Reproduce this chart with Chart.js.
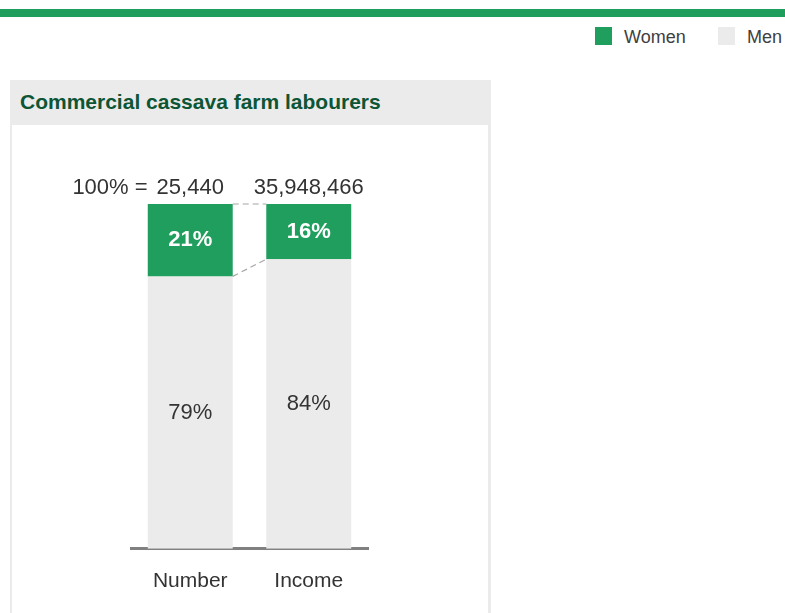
<!DOCTYPE html>
<html>
<head>
<meta charset="utf-8">
<script src="https://cdn.jsdelivr.net/npm/chart.js@4"></script>
<style>
    body { margin: 0; width: 785px; height: 613px; overflow: hidden; background: #fff; font-family: "Liberation Sans", Arial, sans-serif; position: relative; }
    #topBar { position: absolute; left: 0; top: 9px; width: 785px; height: 8px; background: #1f9e5e; }
    #legend { position: absolute; top: 27px; left: 595px; height: 20px; font-size: 18px; color: #404040; }
    .legItem { position: absolute; top: 0; white-space: nowrap; }
    .legItem span.box { position: absolute; left: 0; top: 0; width: 17px; height: 18px; }
    .legItem span.txt { position: absolute; top: 0; line-height: 20px; }
    #panel { position: absolute; left: 10px; top: 80px; width: 481px; height: 540px; background: #ebebeb; }
    #panelTitle { position: absolute; left: 10px; top: 10px; font-size: 21px; font-weight: bold; color: #0d5535; }
    #inner { position: absolute; left: 2px; top: 45px; width: 476px; height: 500px; background: #fff; }
    #chartBox { position: absolute; left: 12px; top: 127px; }
</style>
</head>
<body>
<div id="topBar"></div>
<div id="legend"></div>
<div id="panel">
    <div id="panelTitle">Commercial cassava farm labourers</div>
    <div id="inner"></div>
</div>
<div id="chartBox"><canvas id="shareChart" width="476" height="487"></canvas></div>
<script>
    const categories = ["Number", "Income"];
    const totals = ["25,440", "35,948,466"];
    const womenShare = [21, 16];
    const menShare = [79, 84];
    const seriesNames = ["Women", "Men"];
    const seriesColors = ["#1f9e5e", "#ebebeb"];

    // Legend outside the panel
    const legend = document.getElementById("legend");
    const legendX = [0, 123];
    seriesNames.forEach(function (name, i) {
        const item = document.createElement("div");
        item.className = "legItem";
        item.style.left = legendX[i] + "px";
        item.innerHTML = '<span class="box" style="background:' + seriesColors[i] + '"></span><span class="txt" style="left:29px">' + name + '</span>';
        legend.appendChild(item);
    });

    const fontFamily = '"Liberation Sans", Arial, sans-serif';

    // labels, totals and dashed connectors
    const annotations = {
        id: "annotations",
        afterDatasetsDraw(chart) {
            const ctx = chart.ctx;
            const men = chart.getDatasetMeta(0).data;
            const women = chart.getDatasetMeta(1).data;
            ctx.save();
            ctx.textAlign = "center";
            ctx.textBaseline = "middle";

            women.forEach(function (bar, i) {
                ctx.font = "bold 22px " + fontFamily;
                ctx.fillStyle = "#ffffff";
                ctx.fillText(womenShare[i] + "%", bar.x, (bar.y + bar.base) / 2);
            });
            men.forEach(function (bar, i) {
                ctx.font = "22px " + fontFamily;
                ctx.fillStyle = "#333333";
                ctx.fillText(menShare[i] + "%", bar.x, (bar.y + bar.base) / 2);
            });

            // totals above bars
            const top = chart.chartArea.top;
            ctx.font = "22px " + fontFamily;
            ctx.fillStyle = "#333333";
            totals.forEach(function (t, i) {
                ctx.textAlign = "center";
                ctx.fillText(t, women[i].x, top - 16);
            });
            ctx.textAlign = "right";
            const firstW = ctx.measureText(totals[0]).width;
            ctx.fillText("100% =", women[0].x - firstW / 2 - 9, top - 16);

            // dashed connectors
            ctx.strokeStyle = "#a6a6a6";
            ctx.lineWidth = 1.2;
            ctx.setLineDash([6, 4]);
            const a = women[0], b = women[1];
            ctx.beginPath();
            ctx.moveTo(a.x + a.width / 2, a.y);
            ctx.lineTo(b.x - b.width / 2, b.y);
            ctx.moveTo(a.x + a.width / 2, a.base);
            ctx.lineTo(b.x - b.width / 2, b.base);
            ctx.stroke();
            ctx.restore();
        }
    };

    const ctx = document.getElementById("shareChart").getContext("2d");
    const shareChart = new Chart(ctx, {
        type: "bar",
        data: {
            labels: categories,
            datasets: [{
                label: seriesNames[1],
                data: menShare,
                backgroundColor: seriesColors[1],
                barPercentage: 0.717,
                categoryPercentage: 1
            }, {
                label: seriesNames[0],
                data: womenShare,
                backgroundColor: seriesColors[0],
                barPercentage: 0.717,
                categoryPercentage: 1
            }]
        },
        options: {
            responsive: false,
            animation: false,
            layout: { padding: { left: 119, right: 120, top: 77, bottom: 0 } },
            plugins: { legend: { display: false }, tooltip: { enabled: false } },
            scales: {
                x: {
                    stacked: true,
                    grid: { display: false, drawTicks: false },
                    border: { color: "#808080", width: 3 },
                    ticks: { color: "#333333", font: { size: 21, family: fontFamily }, padding: 20 }
                },
                y: {
                    stacked: true,
                    display: false,
                    min: 0,
                    max: 100
                }
            }
        },
        plugins: [annotations]
    });
</script>
</body>
</html>
